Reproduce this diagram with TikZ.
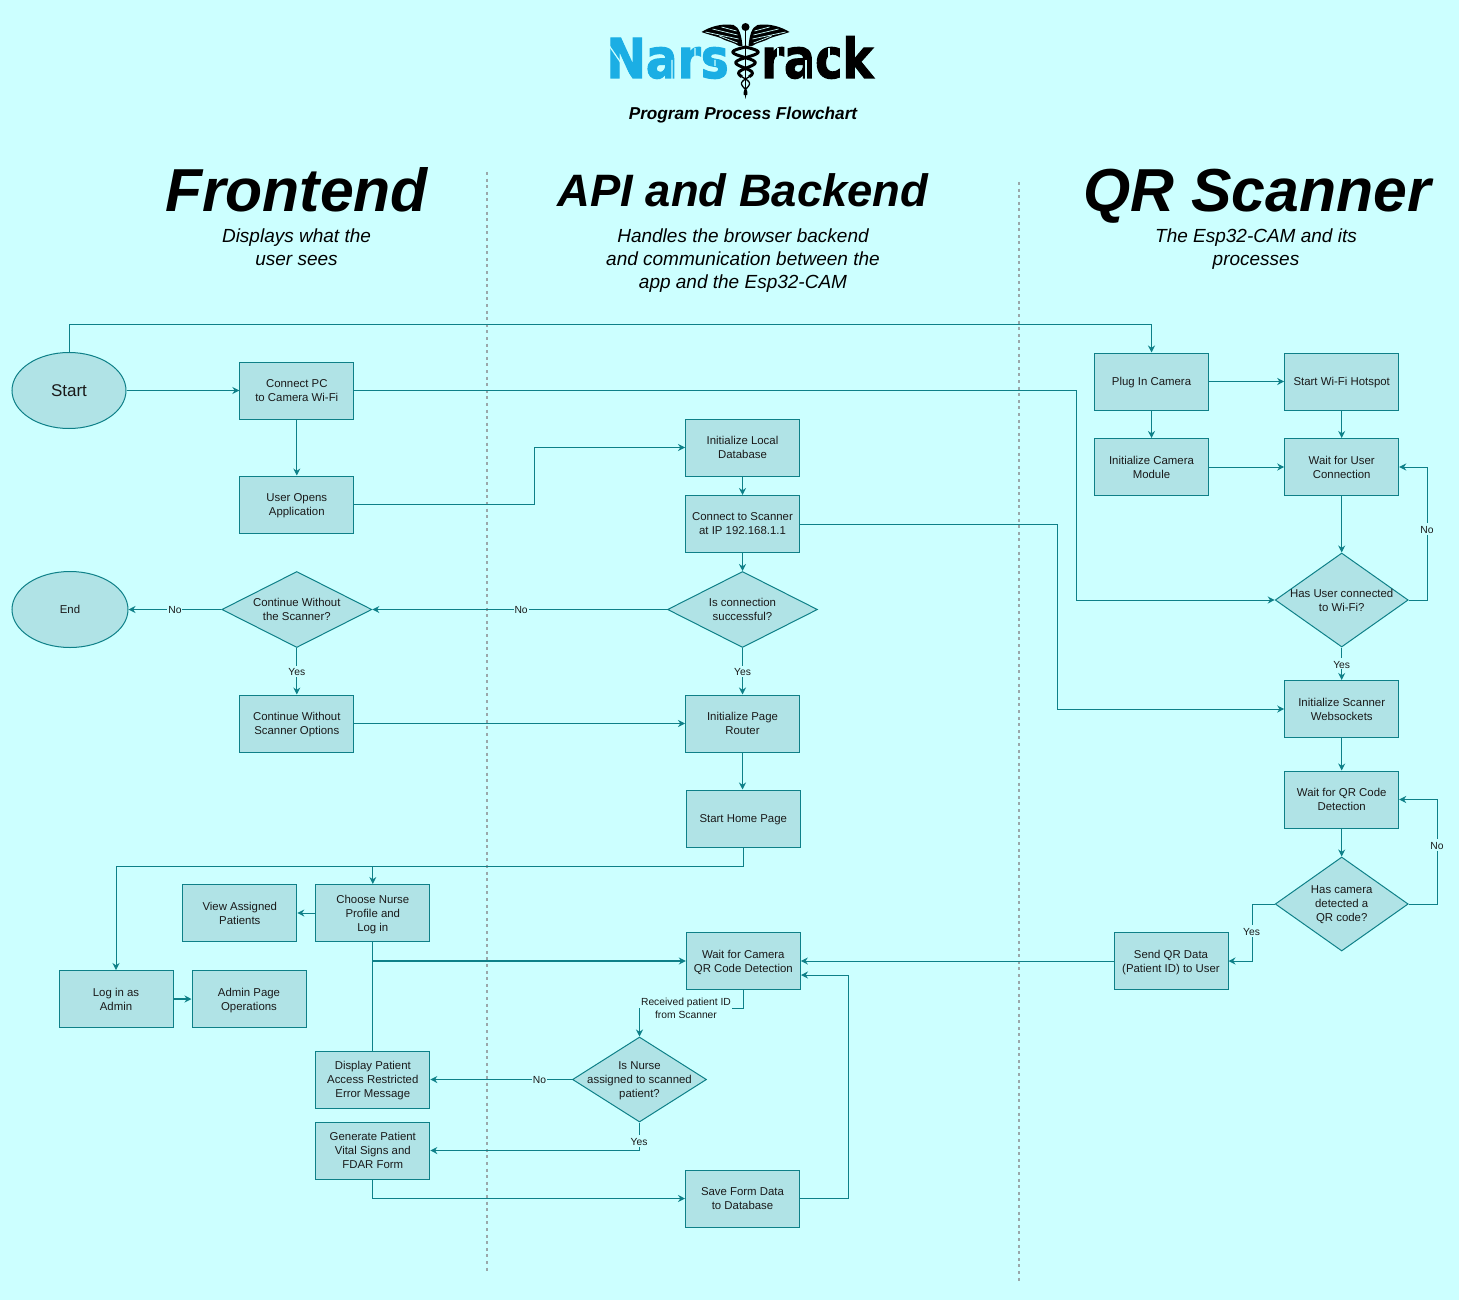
\documentclass[tikz,border=0pt]{standalone}
\usepackage{fontspec}
\setmainfont{Liberation Sans}
\newfontfamily\logofont[BoldFeatures={FakeBold=2}]{DejaVu Sans}
\usepackage{tikz}
\usetikzlibrary{positioning}
\usetikzlibrary{arrows.meta,calc}
\usetikzlibrary{shapes.geometric}
\definecolor{pagebg}{HTML}{CCFFFF}
\definecolor{boxfill}{HTML}{B0E3E6}
\definecolor{boxline}{HTML}{0E8088}
\definecolor{inktext}{HTML}{1A1A1A}
\definecolor{logoblue}{HTML}{1BAEE4}
\definecolor{laneline}{HTML}{9AA8AA}
\newcommand{\nowide}[1]{\makebox[0pt]{#1}}
\tikzset{
    every picture/.style={>={Stealth[length=7pt,width=7pt]},node distance=2cm},
    flow/.style={draw=boxline,fill=boxfill,text=inktext,line width=1pt,align=center,font=\fontsize{11.4}{14}\selectfont},
    procbox/.style={flow,rectangle,inner sep=0pt,text depth=-1.5pt,minimum width=114pt,minimum height=57pt},
    decision/.style={flow,diamond,inner sep=0pt,text depth=0pt,aspect=1.6},
    oval/.style={flow,ellipse,inner sep=0pt,text depth=0pt},
    lbl/.style={fill=pagebg,text=inktext,inner sep=1pt,align=center,font=\fontsize{10.3}{13}\selectfont,execute at begin node={\rule{0pt}{9pt}}},
    bigtitle/.style={anchor=base,font=\fontsize{60.7}{64}\bfseries\itshape\selectfont,text=black},
    subtitle/.style={align=center,text=black,font=\fontsize{19}{23}\itshape\selectfont},
    link/.style={->,draw=boxline,line width=1pt},
    lane/.style={draw=laneline,line width=1.3pt,dash pattern=on 3pt off 3.6pt},
    slit/.style={draw=pagebg,line width=1.2pt},
}

\begin{document}
\begin{tikzpicture}[x=1pt,y=-1pt]
\fill[pagebg] (0,0) rectangle (1459,1300);
\useasboundingbox (0,0) rectangle (1459,1300);

% logo
\node[inner sep=0pt,anchor=base east,text=logoblue,font=\logofont\fontsize{55}{55}\bfseries\selectfont] (logoa) at (729,78) {\scalebox{.855}[1]{Nars}};
\node[inner sep=0pt,anchor=base west,text=black,font=\logofont\fontsize{55}{55}\bfseries\selectfont] (logob) at (761,78) {\scalebox{.84}[1]{rack}};
\draw[slit] (608,44) -- (632,79) (672,60) -- (672,79) (695,48) -- (695,58) (715,60) -- (715,66);
\draw[slit] (778,48) -- (778,58) (806,60) -- (806,79) (829,48) -- (829,58);
\foreach \side in {-1,1} {
\begin{scope}[shift={(745.5,0)},xscale=\side]
\fill[black] (3,46) .. controls (4,36) and (6,27) .. (12,25) .. controls (24,23) and (36,27) .. (44,32) .. controls (36,35) and (30,36) .. (25,38) .. controls (20,41) and (14,42) .. (10,44) .. controls (7,46) and (5,47) .. (3,46);
\draw[pagebg,line width=0.7pt] (7,39) -- (40,32) (8,35) -- (33,29) (9,31) -- (24,27) (8,43) -- (26,36);
\end{scope}
}
\fill[black] (745.5,27) circle (4pt);
\draw[black,line width=1.8pt] (745.5,28) -- (745.5,92);
\fill[black] (744,90) -- (747,90) -- (745.5,99) -- cycle;
\draw[black,line width=3pt,domain=0:.62,samples=50] plot ({745.5+(13*(1-\x)+1)*sin(810*\x)},{47+48*\x});
\draw[black,line width=3pt,domain=0:.62,samples=50] plot ({745.5-(13*(1-\x)+1)*sin(810*\x)},{47+48*\x});
\draw[black,line width=1.3pt,domain=.62:1,samples=30] plot ({745.5+(13*(1-\x)+1)*sin(810*\x)},{47+48*\x});
\draw[black,line width=1.3pt,domain=.62:1,samples=30] plot ({745.5-(13*(1-\x)+1)*sin(810*\x)},{47+48*\x});
\node[text=black,font=\fontsize{17.2}{20}\bfseries\itshape\selectfont] (logosub) at (743,115) {Program Process Flowchart};

% lane headings
\node[bigtitle] (fronthead) at (296.5,212) {Frontend};
\node[bigtitle,font=\fontsize{45.4}{50}\bfseries\itshape\selectfont] (apihead) at (743,207) {API and Backend};
\node[bigtitle] (qrhead) at (1257,212) {QR Scanner};
\node[subtitle] (frontsub) at (296.5,247) {Displays what the\\user sees};
\node[subtitle] (apisub) at (743,260.5) {Handles the browser backend\\and communication between the\\app and the Esp32-CAM};
\node[subtitle] (qrsub) at (1256,249) {The Esp32-CAM and its\\processes};
\draw[lane] (487,172) -- (487,1274);
\draw[lane] (1019,182) -- (1019,1284);

% frontend
\node[oval,minimum width=114pt,minimum height=76pt,font=\fontsize{17}{20}\selectfont] (start) at (69,390.5) {Start};
\node[procbox] (wifi) at (296.8,390.5) {Connect PC\\to Camera Wi-Fi};
\node[procbox,below of=wifi,node distance=114pt] (opens) {User Opens\\Application};
\node[decision,minimum width=150pt,minimum height=76pt] (nocam) at (296.8,609.5) {\nowide{Continue Without}\\\nowide{the Scanner?}};
\node[oval,minimum width=116pt,minimum height=76pt] (end) at (70,609.5) {End};
\node[procbox,below of=nocam,node distance=114pt] (options) {Continue Without\\Scanner Options};
\node[procbox] (choose) at (372.8,913) {Choose Nurse\\Profile and\\Log in};
\node[procbox,left of=choose,node distance=133pt] (assigned) {View Assigned\\Patients};
\node[procbox] (login) at (116,999) {Log in as\\Admin};
\node[procbox,right of=login,node distance=133pt] (admin) {Admin Page\\Operations};
\node[procbox] (denied) at (372.8,1079.5) {Display Patient\\Access Restricted\\Error Message};
\node[procbox,below of=denied,node distance=71pt] (vitals) {Generate Patient\\Vital Signs and\\FDAR Form};

% backend
\node[procbox] (localdb) at (742.5,447.5) {Initialize Local\\Database};
\node[procbox,below of=localdb,node distance=76.5pt] (ipconn) {Connect to Scanner\\at IP 192.168.1.1};
\node[decision,minimum width=150pt,minimum height=76pt] (connok) at (742.5,609.5) {Is connection\\successful?};
\node[procbox,below of=connok,node distance=114pt] (router) {Initialize Page\\Router};
\node[procbox] (home) at (743.3,818.5) {Start Home Page};
\node[procbox] (waitcam) at (743.3,961) {Wait for Camera\\QR Code Detection};
\node[decision,minimum width=134pt,minimum height=85pt] (isnurse) at (639.5,1079.5) {\nowide{Is Nurse}\\\nowide{assigned to scanned}\\\nowide{patient?}};
\node[procbox] (saveform) at (742.5,1198.5) {Save Form Data\\to Database};

% scanner
\node[procbox] (plugin) at (1151.5,381.5) {Plug In Camera};
\node[procbox,right of=plugin,node distance=190.2pt] (hotspot) {Start Wi-Fi Hotspot};
\node[procbox,below of=plugin,node distance=85.5pt] (cammod) {Initialize Camera\\Module};
\node[procbox,below of=hotspot,node distance=85.5pt] (waituser) {Wait for User\\Connection};
\node[decision,minimum width=133pt,minimum height=94pt] (hasuser) at (1341.7,600) {\nowide{Has User connected}\\\nowide{to Wi-Fi?}};
\node[procbox] (sockets) at (1341.7,709) {Initialize Scanner\\Websockets};
\node[procbox] (waitqr) at (1341.7,799.5) {Wait for QR Code\\Detection};
\node[decision,minimum width=133pt,minimum height=94pt] (hasqr) at (1341.7,904) {Has camera\\detected a\\QR code?};
\node[procbox] (senddata) at (1171,961) {Send QR Data\\(Patient ID) to User};

% bends
\coordinate (topbend) at (69,324);
\coordinate (wifibend) at (1076,600);
\coordinate (appbend) at (534.5,480);
\coordinate (ipbend) at (1057,709);
\coordinate (homebend) at (743.3,866);
\coordinate (camback) at (801,975);
\coordinate (savebend) at (848,1100);
\coordinate (userbend) at (1427,530);
\coordinate (qrbend) at (1437,850);
\coordinate (yesbend) at (1252,930);
\coordinate (idbend) at (700,1008);
\coordinate (loginjoin) at (372.8,961);

\path (start.east) edge[link] (wifi.west)
(wifi.south) edge[link] (opens.north)
(localdb.south) edge[link] (ipconn.north)
(ipconn.south) edge[link] (connok.north)
(router.south) edge[link] (router.south |- home.north)
(choose.west) edge[link] (assigned.east)
(login.east) edge[link,line width=1.6pt] (admin.west)
(options.east) edge[link] (router.west)
(plugin.east) edge[link] (hotspot.west)
(plugin.south) edge[link] (cammod.north)
(hotspot.south) edge[link] (waituser.north)
(cammod.east) edge[link] (waituser.west)
(waituser.south) edge[link] (hasuser.north)
(sockets.south) edge[link] (waitqr.north)
(waitqr.south) edge[link] (hasqr.north)
(senddata.west) edge[link] (senddata.west -| waitcam.east)
(connok.west) edge[link] node[lbl,pos=.495] {No} (nocam.east)
(nocam.west) edge[link] node[lbl] {No} (end.east)
(nocam.south) edge[link] node[lbl] {Yes} (options.north)
(connok.south) edge[link] node[lbl] {Yes} (router.north)
(hasuser.south) edge[link] node[lbl] {Yes} (sockets.north)
(isnurse.west) edge[link] node[lbl,pos=.23] {No} (denied.east)
;
\draw[link,-] (loginjoin) -- (denied.north);
\draw[link] (start.north) |- (topbend) -| (plugin.north);
\draw[link] (wifi.east) -| (wifibend) -- (hasuser.west);
\draw[link] (opens.east) -| (appbend) |- (localdb.west);
\draw[link] (ipconn.east) -| (ipbend) -- (sockets.west);
\draw[link] (home.south) |- (homebend) -| (choose.north);
\draw[link] (homebend) -| (login.north);
\draw[link,-] (choose.south) -- (loginjoin);
\draw[link,line width=1.3pt] (loginjoin) -- (loginjoin -| waitcam.west);
\draw[link] (waitcam.south) |- (idbend) -| (isnurse.north);
\draw[link] (isnurse.south) |- (vitals.east);
\draw[link] (vitals.south) |- (saveform.west);
\draw[link] (saveform.east) -| (savebend) |- (camback);
\draw[link] (hasuser.east) -| (userbend) |- (waituser.east);
\draw[link] (hasqr.east) -| (qrbend) |- (waitqr.east);
\draw[link] (hasqr.west) -| (yesbend) |- (senddata.east);

\node[lbl] (idlbl) at (686,1008.5) {Received patient ID\\from Scanner};
\node[lbl] (nurseyes) at (639,1141) {Yes};
\node[lbl] (userno) at (1427,529) {No};
\node[lbl] (qrno) at (1437,845) {No};
\node[lbl] (qryes) at (1251.5,931) {Yes};
\end{tikzpicture}
\end{document}
